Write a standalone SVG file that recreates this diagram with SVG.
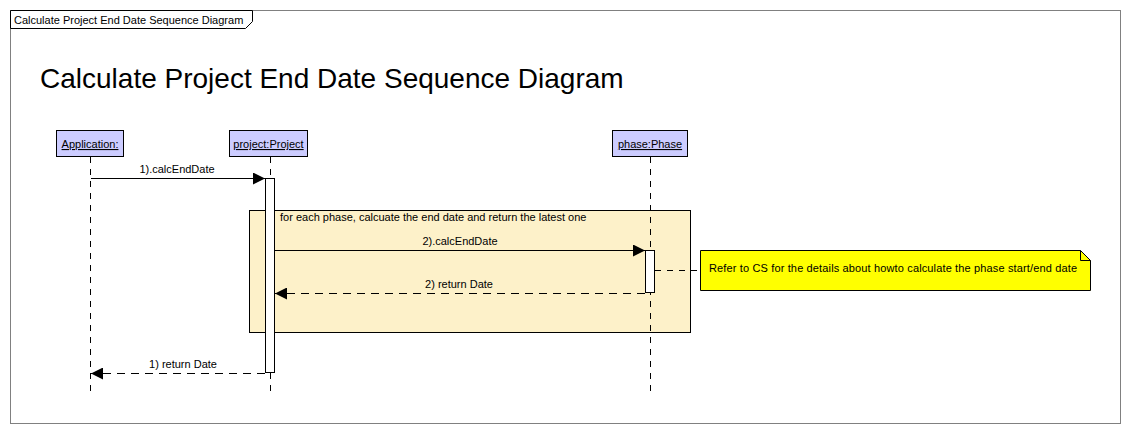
<svg xmlns="http://www.w3.org/2000/svg" width="1130" height="433" viewBox="0 0 1130 433">
<style>
text{font-family:"Liberation Sans",Arial,sans-serif;font-size:11px;fill:#000}
.ll{fill:#CCCCFF;stroke:#000;stroke-width:1}
.lt{text-decoration:underline;text-anchor:middle}
.life{stroke:#000;stroke-width:1;stroke-dasharray:6,6;fill:none}
.act{fill:#fff;stroke:#000;stroke-width:1}
.msg{stroke:#000;stroke-width:1;fill:none}
.ret{stroke:#000;stroke-width:1;fill:none;stroke-dasharray:8,6}
.lbl{text-anchor:middle}
</style>
<defs>
<marker id="ah" markerWidth="12" markerHeight="12" refX="12" refY="6" orient="auto" markerUnits="userSpaceOnUse">
<path d="M0,0 L12,6 L0,12 Z" fill="#000"/>
</marker>
</defs>
<rect width="1130" height="433" fill="#fff"/>
<g id="frame">
<rect x="10.5" y="10.5" width="1110" height="413" fill="none" stroke="#808080"/>
<path d="M10.5,10.5 H252.5 V21.5 L245.5,28.5 H10.5 Z" fill="#fff" stroke="#000"/>
<text x="14" y="24">Calculate Project End Date Sequence Diagram</text>
</g>
<text x="40" y="88" style="font-size:28px">Calculate Project End Date Sequence Diagram</text>
<g id="loop">
<rect x="249.5" y="210.5" width="441" height="122" fill="#FDF1C9" stroke="#000"/>
<text x="280" y="221">for each phase, calcuate the end date and return the latest one</text>
</g>
<g id="application">
<rect class="ll" x="56.5" y="130.5" width="67" height="26"/>
<text class="lt" x="90" y="148">Application:</text>
<line class="life" x1="90.5" y1="157" x2="90.5" y2="393"/>
</g>
<g id="project">
<rect class="ll" x="229.5" y="130.5" width="78" height="26"/>
<text class="lt" x="268.5" y="148">project:Project</text>
<line class="life" x1="270.5" y1="157" x2="270.5" y2="393"/>
<rect class="act" x="265.5" y="178.5" width="9" height="194"/>
</g>
<g id="phase">
<rect class="ll" x="612.5" y="130.5" width="75" height="26"/>
<text class="lt" x="650" y="148">phase:Phase</text>
<line class="life" x1="650.5" y1="157" x2="650.5" y2="393"/>
<rect class="act" x="645.5" y="250.5" width="9" height="42"/>
</g>
<g id="note">
<path d="M700.5,250.5 H1080.5 L1090.5,260.5 V290.5 H700.5 Z" fill="#FFFF00" stroke="#000"/>
<path d="M1080.5,250.5 V260.5 H1090.5" fill="none" stroke="#000"/>
<text x="709" y="272" textLength="368" lengthAdjust="spacing">Refer to CS  for the details about howto calculate the phase start/end date</text>
</g>
<g id="connectors">
<line class="msg" x1="91" y1="178.5" x2="265" y2="178.5" marker-end="url(#ah)"/>
<text class="lbl" x="177" y="173">1).calcEndDate</text>
<line class="msg" x1="275" y1="250.5" x2="645" y2="250.5" marker-end="url(#ah)"/>
<text class="lbl" x="460" y="245">2).calcEndDate</text>
<line class="ret" x1="645" y1="293.5" x2="275" y2="293.5" marker-end="url(#ah)"/>
<text class="lbl" x="459" y="288">2) return Date</text>
<line class="ret" x1="655" y1="270.5" x2="700" y2="270.5" style="stroke-dasharray:6,6"/>
<line class="ret" x1="265" y1="373.5" x2="91" y2="373.5" marker-end="url(#ah)"/>
<text class="lbl" x="183" y="368">1) return Date</text>
</g>
</svg>
